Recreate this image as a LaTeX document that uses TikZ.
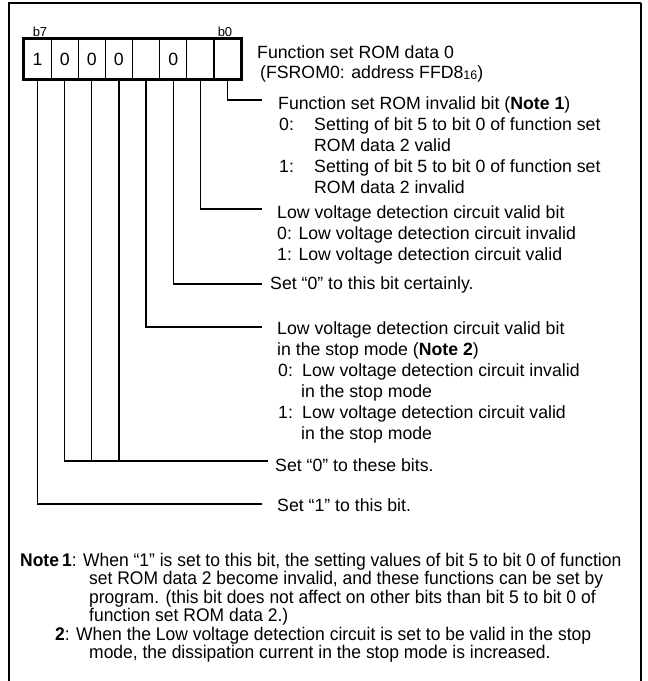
\documentclass[tikz,border=0pt]{standalone}
\usepackage{fontspec}
\setmainfont{Liberation Sans}
\newfontfamily\notefont{Liberation Sans}[FakeStretch=0.955]
\begin{document}
\begin{tikzpicture}[x=1pt,y=-1pt,
  cell/.style={draw, line width=1.3pt, minimum width=27.1pt, minimum height=40pt, inner sep=0pt, font=\fontsize{17.7}{20}\selectfont},
  lbl/.style={anchor=base west, inner sep=0pt, font=\fontsize{17.7}{20.5}\selectfont},
  bitlbl/.style={anchor=base, inner sep=0pt, font=\fontsize{13}{14}\selectfont},
  note/.style={anchor=base west, inner sep=0pt, font=\notefont\fontsize{18.3}{18.4}\selectfont},
  conn/.style={line width=1.3pt},
  frame/.style={line width=1.3pt}]
\useasboundingbox (0,0) rectangle (648,681);
% frame (open at the bottom)
\draw[frame] (9,681) -- (9,3) -- (641,3);
\draw[line width=2pt] (641,3) -- (641,681);
% register cells
\node[cell] (c7) at (37.6,59) {1};
\node[cell] (c6) at (64.7,59) {0};
\node[cell] (c5) at (91.8,59) {0};
\node[cell] (c4) at (118.9,59) {0};
\node[cell] (c3) at (146.1,59) {};
\node[cell] (c2) at (173.2,59) {0};
\node[cell] (c1) at (200.3,59) {};
\node[cell] (c0) at (227.4,59) {};
\draw[line width=2pt] (c7.north west) rectangle (c0.south east);
\node[bitlbl] (b7) at (40,36) {b7};
\node[bitlbl] (b0) at (225,36) {b0};
% register title
\node[lbl] (ta) at (257,58) {Function set ROM data 0};
\node[lbl] (tb) at (260,78) {(FSROM0: address FFD8{\fontsize{12.5}{13}\selectfont\raisebox{-1pt}{16}})};
% bit 0
\node[lbl] (t0a) at (278,109) {Function set ROM invalid bit (\textbf{Note 1})};
\node[lbl] (t0b) at (279,130) {0:};
\node[lbl] (t0c) at (314,130) {Setting of bit 5 to bit 0 of function set};
\node[lbl] (t0d) at (314,151) {ROM data 2 valid};
\node[lbl] (t0e) at (279,172) {1:};
\node[lbl] (t0f) at (314,172) {Setting of bit 5 to bit 0 of function set};
\node[lbl] (t0g) at (314,193) {ROM data 2 invalid};
% bit 1
\node[lbl] (t1a) at (277,218) {Low voltage detection circuit valid bit};
\node[lbl] (t1b) at (277,239) {0: Low voltage detection circuit invalid};
\node[lbl] (t1c) at (277,260) {1: Low voltage detection circuit valid};
% bit 2
\node[lbl] (t2a) at (270,289) {Set “0” to this bit certainly.};
% bit 3
\node[lbl] (t3a) at (277,334) {Low voltage detection circuit valid bit};
\node[lbl] (t3b) at (277,355) {in the stop mode (\textbf{Note 2})};
\node[lbl] (t3c) at (278,376) {0:};
\node[lbl] (t3d) at (302,376) {Low voltage detection circuit invalid};
\node[lbl] (t3e) at (301,397) {in the stop mode};
\node[lbl] (t3f) at (278,418) {1:};
\node[lbl] (t3g) at (302,418) {Low voltage detection circuit valid};
\node[lbl] (t3h) at (301,439) {in the stop mode};
% bits 4-6
\node[lbl] (t4a) at (275,471) {Set “0” to these bits.};
% bit 7
\node[lbl] (t7a) at (277,511) {Set “1” to this bit.};
% connector ends
\coordinate (e0) at (262,100);
\coordinate (e1) at (262,209);
\coordinate (e2) at (262,284);
\coordinate (e3) at (262,327);
\coordinate (e4) at (268,461);
\coordinate (e7) at (262,504);
\draw[conn] (c0.south) |- (e0);
\draw[conn] (c1.south) |- (e1);
\draw[conn] (c2.south) |- (e2);
\draw[conn] (c3.south) |- (e3);
\draw[conn] (c6.south) |- (e4);
\draw[conn] (c5.south) -- (c5.south |- e4);
\draw[conn] (c4.south) -- (c4.south |- e4);
\draw[conn] (c7.south) |- (e7);
% notes
\node[note] (n1a) at (20,566) {\textbf{Note\,1}: When “1” is set to this bit, the setting values of bit 5 to bit 0 of function};
\node[note] (n1b) at (89,584) {set ROM data 2 become invalid, and these functions can be set by};
\node[note] (n1c) at (89,603) {program. (this bit does not affect on other bits than bit 5 to bit 0 of};
\node[note] (n1d) at (89,621) {function set ROM data 2.)};
\node[note] (n2a) at (55,640) {\textbf{2}: When the Low voltage detection circuit is set to be valid in the stop};
\node[note] (n2b) at (89,658) {mode, the dissipation current in the stop mode is increased.};
\end{tikzpicture}
\end{document}
